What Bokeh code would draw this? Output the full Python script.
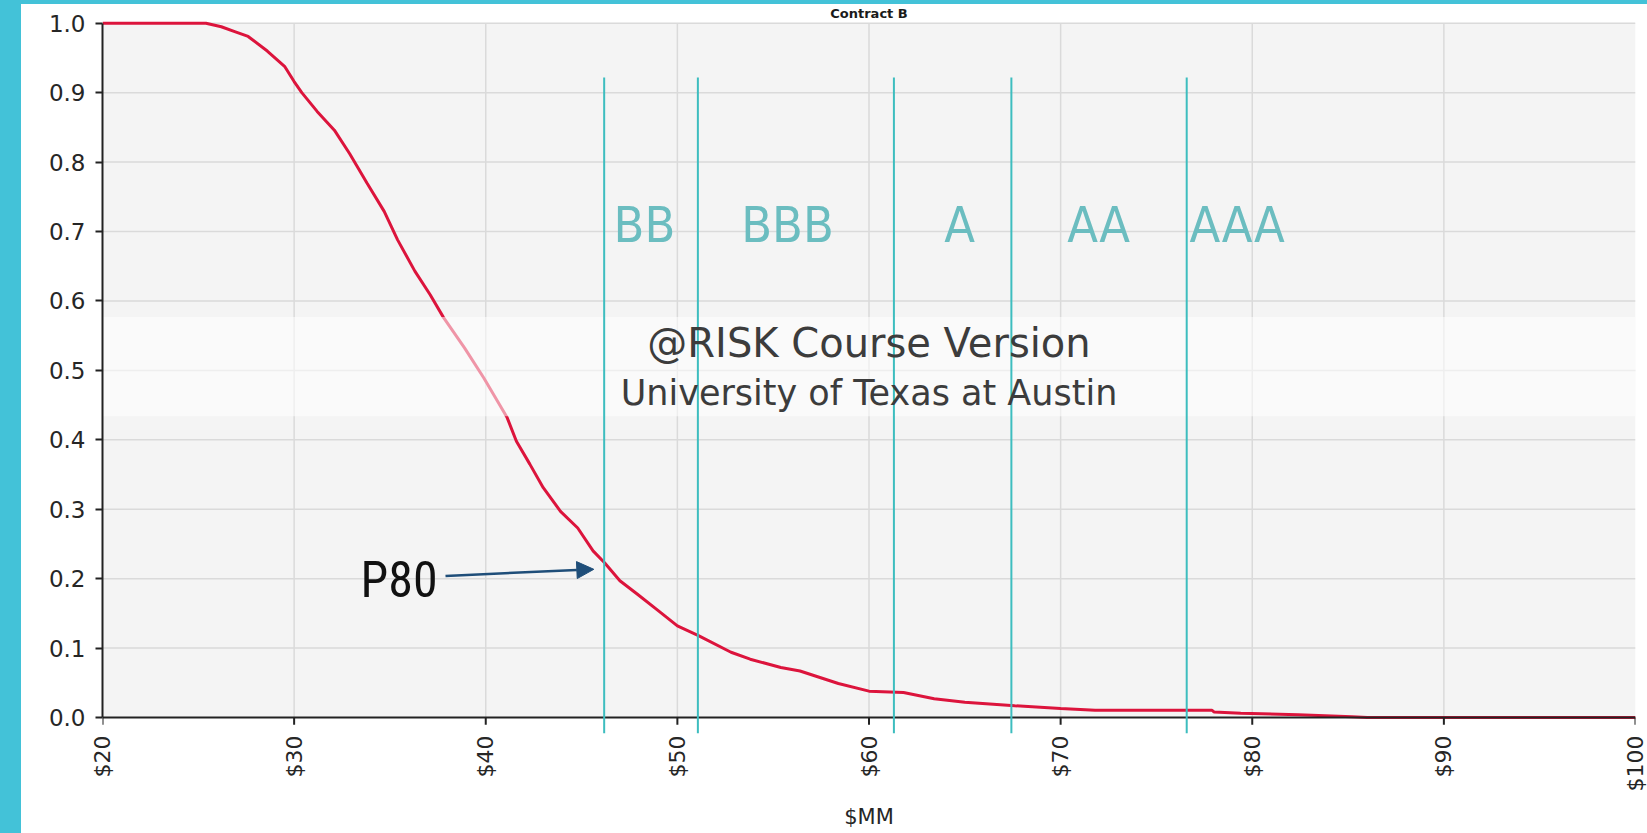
import math
from bokeh.plotting import figure
from bokeh.layouts import row, column
from bokeh.models import (FixedTicker, NumeralTickFormatter, Arrow, NormalHead, Label, Div)
from bokeh.core.properties import value
from bokeh.embed import file_html
from bokeh.resources import INLINE

# ---------------- data ----------------
cost_mm = [20.0, 25.4, 26.2, 26.9, 27.6, 28.6, 29.5, 30.0, 30.4, 31.2, 32.1, 32.9,
           33.8, 34.7, 35.4, 36.3, 37.1, 37.8, 38.9, 39.9, 41.1, 41.6, 42.3, 43.0,
           43.9, 44.8, 45.6, 46.2, 47.0, 47.9, 49.0, 50.0, 51.1, 52.8, 53.8, 55.4,
           56.4, 58.4, 60.0, 61.8, 63.4, 65.0, 67.6, 70.0, 71.8, 77.9, 78.0, 79.4,
           82.4, 85.2, 86.0, 100.0]
prob_exceed = [1.0, 1.0, 0.995, 0.988, 0.981, 0.960, 0.938, 0.916, 0.900, 0.873, 0.846, 0.812,
               0.770, 0.729, 0.688, 0.643, 0.609, 0.576, 0.532, 0.489, 0.433, 0.398, 0.365, 0.331,
               0.297, 0.273, 0.240, 0.223, 0.197, 0.178, 0.154, 0.132, 0.118, 0.094, 0.084, 0.072,
               0.067, 0.049, 0.038, 0.036, 0.027, 0.022, 0.017, 0.013, 0.0105, 0.0105, 0.008, 0.006,
               0.004, 0.001, 0.0, 0.0]

rating_names = ["BB", "BBB", "A", "AA", "AAA"]
rating_thresholds = [46.18, 51.07, 61.3, 67.43, 76.58]
rating_label_x = [46.67, 53.33, 63.93, 70.34, 76.73]
rating_label_y = [0.709, 0.709, 0.709, 0.709, 0.709]
rating_line_top = 0.922

x_ticks = [20, 30, 40, 50, 60, 70, 80, 90, 100]
x_tick_labels = ["$20", "$30", "$40", "$50", "$60", "$70", "$80", "$90", "$100"]
y_ticks = [0.0, 0.1, 0.2, 0.3, 0.4, 0.5, 0.6, 0.7, 0.8, 0.9, 1.0]

p80_text_x, p80_text_y = 33.47, 0.198
p80_arrow_start = (37.9, 0.204)
p80_arrow_end = (45.64, 0.2135)

band_bottom, band_top = 0.434, 0.577
watermark_x = 60.0
watermark_line1_y, watermark_line2_y = 0.540, 0.468

title_text = "Contract B"
title_y = 1.0255

# ---------------- figure ----------------
Y_START, Y_END = -0.023, 1.027
TICK_LEN = 0.0105
SLIDE_CYAN = "#43c2d8"

p = figure(width=1626, height=829, x_range=(20, 100), y_range=(Y_START, Y_END),
           output_backend="svg", toolbar_location=None,
           min_border_left=81, min_border_right=12, min_border_top=0, min_border_bottom=100,
           background_fill_color="white", border_fill_color="white",
           outline_line_color=None)
p.xgrid.visible = False
p.ygrid.visible = False

# plot area background
p.quad(left=x_ticks[0], right=x_ticks[-1], bottom=y_ticks[0], top=y_ticks[-1],
       fill_color="#f4f4f4", line_color=None)

# grid lines
p.segment(x0=x_ticks[1:-1], y0=[y_ticks[0]] * 7, x1=x_ticks[1:-1], y1=[y_ticks[-1]] * 7,
          line_color="#dadada", line_width=1.5)
p.segment(x0=[x_ticks[0]] * 10, y0=y_ticks[1:], x1=[x_ticks[-1]] * 10, y1=y_ticks[1:],
          line_color="#dadada", line_width=1.5)

# curve
p.line(cost_mm, prob_exceed, line_color="#dc143c", line_width=3)

# watermark band
p.quad(left=x_ticks[0], right=x_ticks[-1], bottom=band_bottom, top=band_top,
       fill_color="white", fill_alpha=0.55, line_color=None)

# x axis line and ticks at y = 0
p.segment(x0=[x_ticks[0]], y0=[0], x1=[x_ticks[-1]], y1=[0], line_color="#222222", line_width=2)
p.segment(x0=x_ticks, y0=[0] * len(x_ticks), x1=x_ticks, y1=[-TICK_LEN] * len(x_ticks),
          line_color="#222222", line_width=2)

# rating threshold lines
p.segment(x0=rating_thresholds, y0=[Y_START] * 5, x1=rating_thresholds, y1=[rating_line_top] * 5,
          line_color="#3dbdbf", line_width=2)
p.text(x=rating_label_x, y=rating_label_y, text=rating_names,
       text_font=value("DejaVu Sans Condensed, Liberation Sans"), text_font_size="50px",
       text_color="#6bbdc0", text_align="left", text_baseline="middle")

# watermark text
p.add_layout(Label(x=watermark_x, y=watermark_line1_y, text="@RISK Course Version",
                   text_font="DejaVu Sans", text_font_size="40px", text_color="#3c3c3c",
                   text_align="center", text_baseline="middle"))
p.add_layout(Label(x=watermark_x, y=watermark_line2_y, text="University of Texas at Austin",
                   text_font="DejaVu Sans", text_font_size="35px", text_color="#3c3c3c",
                   text_align="center", text_baseline="middle"))

# small title in the top margin
p.add_layout(Label(x=watermark_x, y=title_y, text=title_text,
                   text_font="DejaVu Sans", text_font_style="bold", text_font_size="13px",
                   text_color="#1a1a1a", text_align="center", text_baseline="top"))

# P80 annotation
p.add_layout(Label(x=p80_text_x, y=p80_text_y, text="P80",
                   text_font="Roboto Condensed, Open Sans Condensed, Liberation Sans",
                   text_font_size="50px",
                   text_color="#111111", text_align="left", text_baseline="middle"))
p.add_layout(Arrow(end=NormalHead(size=17, fill_color="#1f4e79", line_color="#1f4e79"),
                   x_start=p80_arrow_start[0], y_start=p80_arrow_start[1],
                   x_end=p80_arrow_end[0], y_end=p80_arrow_end[1],
                   line_color="#1f4e79", line_width=2.5))

# axes
p.yaxis.bounds = (y_ticks[0], y_ticks[-1])
p.yaxis.ticker = FixedTicker(ticks=y_ticks)
p.yaxis.formatter = NumeralTickFormatter(format="0.0")
p.yaxis.axis_line_color = "#222222"
p.yaxis.axis_line_width = 2
p.yaxis.major_tick_line_color = "#222222"
p.yaxis.major_tick_line_width = 2
p.yaxis.major_tick_out = 7
p.yaxis.major_tick_in = 0
p.yaxis.minor_tick_line_color = None
p.yaxis.major_label_standoff = 10
p.yaxis.major_label_text_font = "DejaVu Sans"
p.yaxis.major_label_text_font_size = "23px"
p.yaxis.major_label_text_color = "#262626"

p.xaxis.ticker = FixedTicker(ticks=x_ticks)
p.xaxis.major_label_overrides = {t: lab for t, lab in zip(x_ticks, x_tick_labels)}
p.xaxis.major_label_orientation = math.pi / 2
p.xaxis.axis_line_color = None
p.xaxis.major_tick_line_color = None
p.xaxis.major_tick_out = 0
p.xaxis.major_tick_in = 0
p.xaxis.minor_tick_line_color = None
p.xaxis.major_label_standoff = 2
p.xaxis.major_label_text_font = "DejaVu Sans"
p.xaxis.major_label_text_font_size = "22px"
p.xaxis.major_label_text_color = "#262626"
p.xaxis.axis_label = "$MM"
p.xaxis.axis_label_standoff = 11
p.xaxis.axis_label_text_font = "DejaVu Sans"
p.xaxis.axis_label_text_font_size = "21px"
p.xaxis.axis_label_text_font_style = "normal"
p.xaxis.axis_label_text_color = "#262626"

# cyan slide background around the chart panel
top_strip = Div(text="", width=1647, height=4, margin=0,
                styles={"background-color": SLIDE_CYAN})
left_strip = Div(text="", width=21, height=829, margin=0,
                 styles={"background-color": SLIDE_CYAN})
layout = column(top_strip, row(left_strip, p, spacing=0), spacing=0)

open("out.html", "w").write(file_html(layout, INLINE))
